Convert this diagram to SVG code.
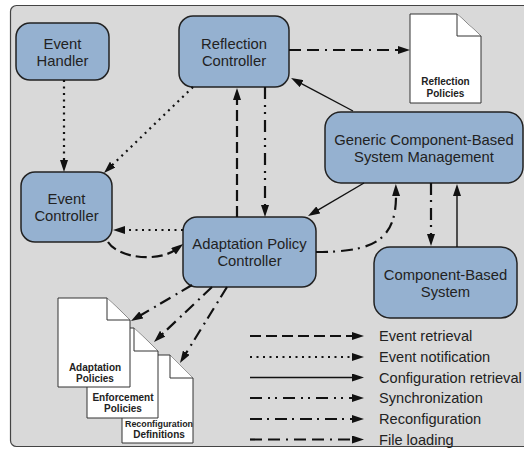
<svg xmlns="http://www.w3.org/2000/svg" width="524" height="449" viewBox="0 0 524 449">
<defs>
<marker id="ah" viewBox="0 0 12 8" refX="4" refY="4" markerWidth="12" markerHeight="8" markerUnits="userSpaceOnUse" orient="auto"><path d="M0,0 L12,4 L0,8 Z" fill="#111"/></marker>
</defs>
<style>
.node rect{fill:#95b1d0;stroke:#222;stroke-width:1.5}
.node text{font-family:"Liberation Sans",Arial,sans-serif;font-size:14.8px;fill:#222;text-anchor:middle}
.doc path{fill:#fff;stroke:#333;stroke-width:1}
.doc text{font-family:"Liberation Sans",Arial,sans-serif;font-size:10px;font-weight:bold;fill:#222;text-anchor:middle}
.c{fill:none;stroke:#111;marker-end:url(#ah);stroke-linecap:butt}
.er{stroke-width:2.2;stroke-dasharray:11 5}
.en{stroke-width:2.2;stroke-dasharray:2 4.5}
.cr{stroke-width:1.4}
.sy{stroke-width:2.2;stroke-dasharray:12 6 2 5 2 6}
.rc{stroke-width:2.2;stroke-dasharray:12 5 2 6}
.fl{stroke-width:2.2;stroke-dasharray:12 6 12 6 2 6}
.lg{font-family:"Liberation Sans",Arial,sans-serif;font-size:14.6px;fill:#222}
</style>
<rect x="10.5" y="5.5" width="530" height="441" rx="6" fill="#d9d9d9" stroke="#444" stroke-width="1.2"/>

<g id="event-handler" class="node"><rect x="16" y="23" width="93" height="57" rx="14"/><text x="62.5" y="48.5">Event</text><text x="62.5" y="65.5">Handler</text></g>
<g id="reflection-controller" class="node"><rect x="179" y="16" width="110" height="71" rx="14"/><text x="234" y="48.5">Reflection</text><text x="234" y="65.5">Controller</text></g>
<g id="event-controller" class="node"><rect x="21" y="172" width="91" height="70" rx="14"/><text x="66.5" y="204">Event</text><text x="66.5" y="221">Controller</text></g>
<g id="adaptation-policy-controller" class="node"><rect x="183" y="217" width="133" height="70" rx="14"/><text x="249.5" y="249">Adaptation Policy</text><text x="249.5" y="266">Controller</text></g>
<g id="generic-cbsm" class="node"><rect x="325" y="112" width="198" height="71" rx="16"/><text x="424" y="144.5">Generic Component-Based</text><text x="424" y="161.5">System Management</text></g>
<g id="component-based-system" class="node"><rect x="374" y="247" width="143" height="71" rx="16"/><text x="445.5" y="279.5">Component-Based</text><text x="445.5" y="296.5">System</text></g>

<g id="reflection-policies" class="doc"><path d="M410,14 H457 L481,36 V103 H410 Z"/><path d="M457,14 V36 H481"/><text x="445.5" y="85.3">Reflection</text><text x="445.5" y="96.7">Policies</text></g>
<g id="reconfiguration-definitions" class="doc"><path d="M122,355 H170 L193,378 V443 H122 Z"/><path d="M170,355 V378 H193"/><text x="159" y="426.7" style="font-size:8.9px">Reconfiguration</text><text x="159" y="437.7">Definitions</text></g>
<g id="enforcement-policies" class="doc"><path d="M87,328 H134 L158,351 V418 H87 Z"/><path d="M134,328 V351 H158"/><text x="123" y="400.7">Enforcement</text><text x="123" y="411.7">Policies</text></g>
<g id="adaptation-policies" class="doc"><path d="M58,298 H107 L130,320 V387 H58 Z"/><path d="M107,298 V320 H130"/><text x="95" y="370.7">Adaptation</text><text x="95" y="382.3">Policies</text></g>

<g id="connectors">
<path class="c en" d="M64,80 L64,164"/>
<path class="c en" d="M193,87 L109.75,167.44"/>
<path class="c en" d="M183,230 L121,230"/>
<path class="c er" d="M108,242 C118,258 158,263 176.7,248.9"/>
<path class="c er" d="M237,217 L237,96"/>
<path class="c sy" d="M265,87 L265,209"/>
<path class="c fl" d="M289,50 L402,50"/>
<path class="c cr" d="M353,111 L298.1,81.8"/>
<path class="c cr" d="M364,183 L314.9,211.9"/>
<path class="c rc" d="M316,252 C375,252 397,240 396,192"/>
<path class="c rc" d="M431,183 L431,238"/>
<path class="c cr" d="M457,247 L457,192"/>
<path class="c rc" d="M192,285 L137.9,316.9"/>
<path class="c rc" d="M212,287 L159.8,336.5"/>
<path class="c rc" d="M227,287 L184.2,356.2"/>
</g>

<g id="legend">
<path class="c er" d="M250,336 L356,336"/>
<path class="c en" d="M250,357 L356,357"/>
<path class="c cr" d="M250,377.5 L356,377.5"/>
<path class="c sy" d="M250,398 L356,398"/>
<path class="c rc" d="M250,419 L356,419"/>
<path class="c fl" d="M250,439.5 L356,439.5"/>
<text class="lg" x="379" y="341">Event retrieval</text>
<text class="lg" x="379" y="362">Event notification</text>
<text class="lg" x="379" y="382.5">Configuration retrieval</text>
<text class="lg" x="379" y="403">Synchronization</text>
<text class="lg" x="379" y="424">Reconfiguration</text>
<text class="lg" x="379" y="444.5">File loading</text>
</g>
</svg>
